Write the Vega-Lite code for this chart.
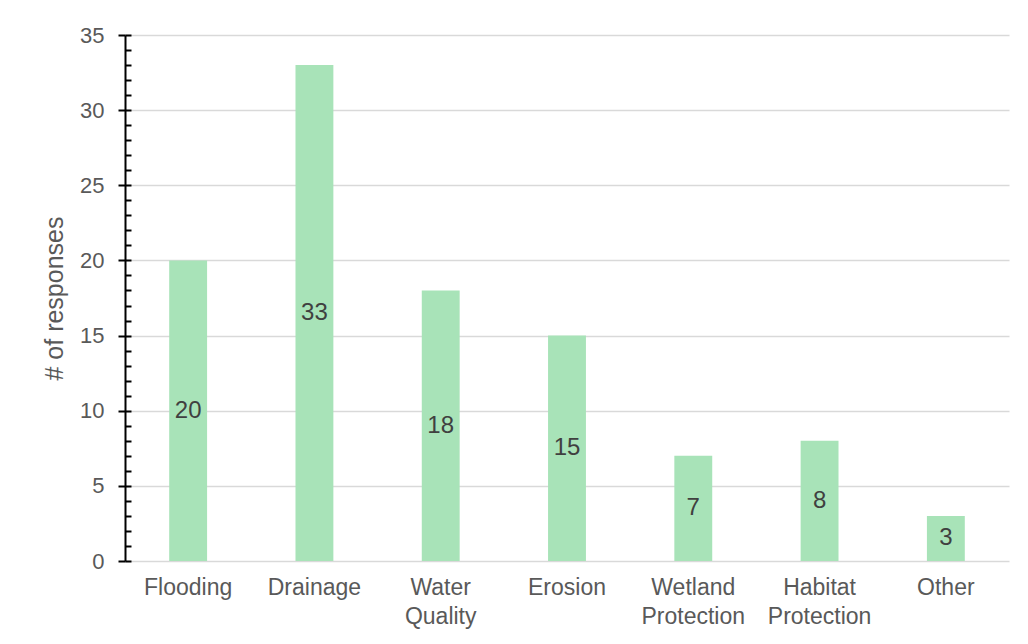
{
  "$schema": "https://vega.github.io/schema/vega-lite/v6.json",
  "width": 884,
  "height": 526,
  "autosize": {"type": "none"},
  "padding": {"left": 125, "top": 35, "right": 19, "bottom": 83},
  "background": "white",
  "config": {
    "view": {"stroke": null},
    "font": "Liberation Sans"
  },
  "data": {
    "values": [
      {"category": "Flooding", "responses": 20},
      {"category": "Drainage", "responses": 33},
      {"category": "Water Quality", "responses": 18},
      {"category": "Erosion", "responses": 15},
      {"category": "Wetland Protection", "responses": 7},
      {"category": "Habitat Protection", "responses": 8},
      {"category": "Other", "responses": 3}
    ]
  },
  "encoding": {
    "x": {
      "field": "category",
      "type": "nominal",
      "sort": null,
      "scale": {"paddingInner": 0.7, "paddingOuter": 0.35},
      "axis": {
        "title": null,
        "labelAngle": 0,
        "domain": false,
        "ticks": false,
        "labelPadding": 15,
        "labelFontSize": 23,
        "labelColor": "#595959",
        "labelLineHeight": 29,
        "labelExpr": "split(datum.label, ' ')"
      }
    }
  },
  "layer": [
    {
      "mark": {"type": "bar", "color": "#a8e3b8"},
      "encoding": {
        "y": {
          "field": "responses",
          "type": "quantitative",
          "scale": {"domain": [0, 35], "nice": false},
          "axis": {
            "title": "# of responses",
            "titleFontSize": 25,
            "titleFontWeight": "normal",
            "titleColor": "#595959",
            "titlePadding": 12,
            "values": [0, 5, 10, 15, 20, 25, 30, 35],
            "labelFontSize": 22,
            "labelColor": "#595959",
            "labelPadding": 14,
            "tickSize": 7,
            "tickWidth": 2,
            "tickColor": "#000000",
            "domainColor": "#000000",
            "domainWidth": 2,
            "grid": true,
            "gridColor": "#d9d9d9",
            "gridWidth": 1.5
          }
        }
      }
    },
    {
      "transform": [{"calculate": "datum.responses / 2", "as": "mid"}],
      "mark": {"type": "text", "fontSize": 24, "color": "#404040", "baseline": "middle", "align": "center"},
      "encoding": {
        "y": {
          "field": "mid",
          "type": "quantitative",
          "scale": {"domain": [0, 35], "nice": false},
          "axis": {
            "orient": "left",
            "title": null,
            "labels": false,
            "domain": false,
            "grid": false,
            "values": [0,1,2,3,4,5,6,7,8,9,10,11,12,13,14,15,16,17,18,19,20,21,22,23,24,25,26,27,28,29,30,31,32,33,34,35],
            "tickSize": -6,
            "tickWidth": 2,
            "tickColor": "#000000"
          }
        },
        "text": {"field": "responses", "type": "quantitative"}
      }
    }
  ],
  "resolve": {"axis": {"y": "independent"}}
}
